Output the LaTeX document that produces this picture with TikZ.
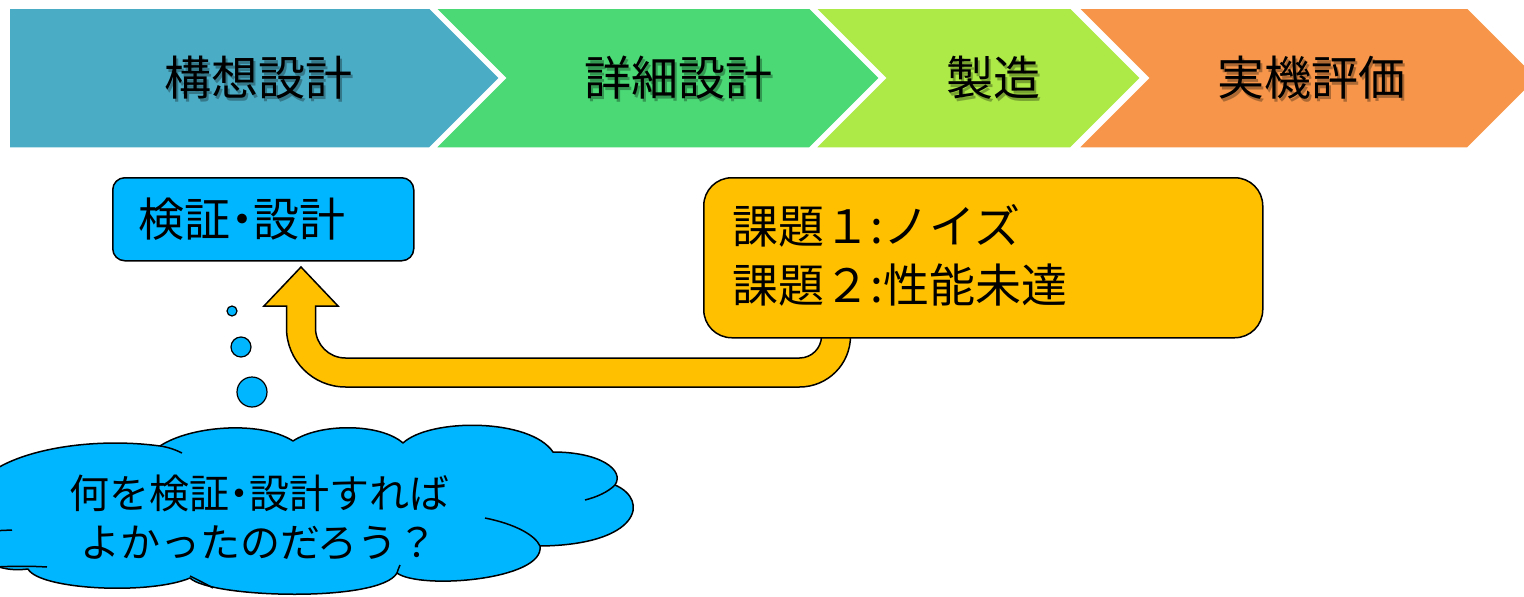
\documentclass[tikz,border=0pt]{standalone}
\usepackage{fontspec}
\newfontfamily\jp{Noto Sans CJK JP}
\newfontfamily\jpp[RawFeature=+palt]{Noto Sans CJK JP}
\definecolor{chA}{RGB}{75,172,198}
\definecolor{chB}{RGB}{74,217,117}
\definecolor{chC}{RGB}{173,234,71}
\definecolor{chD}{RGB}{247,150,74}
\definecolor{cyanbox}{RGB}{0,183,255}
\definecolor{yel}{RGB}{255,192,0}
\begin{document}
\begin{tikzpicture}[x=1pt,y=-1pt,
  chev/.style={draw=white, line width=3.5pt, line join=miter},
  chevtext/.style={font=\jp\fontsize{47}{50}\selectfont, text=black, inner sep=0pt},
  chevshadow/.style={font=\jp\fontsize{47}{50}\selectfont, text=black, text opacity=0.3, inner sep=0pt},
  outl/.style={draw=black, line width=1.5pt},
  bubble/.style={circle, outl, fill=cyanbox, inner sep=0pt, line width=1.2pt},
  innerarc/.style={draw=black, line width=1.5pt}
]
\useasboundingbox (0,0) rectangle (1524,597);

% chevrons
\filldraw[chev, fill=chA] (8,7) -- (430,7) -- (501,78) -- (430,149) -- (8,149) -- cycle;
\filldraw[chev, fill=chB] (433,7) -- (810,7) -- (881,78) -- (810,149) -- (433,149) -- (504,78) -- cycle;
\filldraw[chev, fill=chC] (813,7) -- (1071,7) -- (1142,78) -- (1071,149) -- (813,149) -- (884,78) -- cycle;
\filldraw[chev, fill=chD] (1076,7) -- (1468,7) -- (1539,78) -- (1468,149) -- (1076,149) -- (1147,78) -- cycle;

\node[chevshadow] (t1s) at (260.5,80.5) {構想設計};
\node[chevtext] (t1) at (258,78) {構想設計};
\node[chevshadow] (t2s) at (680.5,80.5) {詳細設計};
\node[chevtext] (t2) at (678,78) {詳細設計};
\node[chevshadow] (t3s) at (995.5,80.5) {製造};
\node[chevtext] (t3) at (993,78) {製造};
\node[chevshadow] (t4s) at (1313.5,80.5) {実機評価};
\node[chevtext] (t4) at (1311,78) {実機評価};

% U-turn block arrow
\draw[outl, fill=yel, line join=miter] (821.5,320) -- (821.5,336)
  arc[start angle=0, end angle=90, radius=22] -- (345.5,358)
  arc[start angle=90, end angle=180, radius=30] -- (315.5,306)
  -- (338,306) -- (301,267) -- (264,306) -- (286.5,306) -- (286.5,328)
  arc[start angle=180, end angle=90, radius=59] -- (799.5,387)
  arc[start angle=90, end angle=0, radius=51] -- (850.5,320) -- cycle;

% boxes
\node[outl, fill=cyanbox, rounded corners=12pt, anchor=north west,
  minimum width=301pt, minimum height=83pt, text width=249pt, inner xsep=26pt,
  align=left, font=\jpp\fontsize{46}{50}\selectfont] (verify) at (112,177) {検証・設計};

\node[outl, fill=yel, rounded corners=28pt, anchor=north west,
  minimum width=559pt, minimum height=160pt, text width=501pt, inner xsep=29pt,
  align=left, font=\jp\fontsize{46}{59}\selectfont] (issues) at (703,177)
  {課題１:ノイズ\\課題２:性能未達\rule[-8pt]{0pt}{0pt}};

% thought bubbles
\node[bubble, minimum size=10pt] (b1) at (232,311) {};
\node[bubble, minimum size=20pt] (b2) at (241,347) {};
\node[bubble, minimum size=30pt] (b3) at (252,392) {};

% cloud
\filldraw[outl, fill=cyanbox, line join=round]
  (-30,500) .. controls (-20,455) and (80,435) .. (160,446)
  .. controls (190,426) and (260,420) .. (293,441)
  .. controls (320,423) and (380,423) .. (403,443)
  .. controls (430,418) and (530,418) .. (553,452)
  .. controls (600,452) and (625,470) .. (615,485)
  .. controls (650,500) and (640,545) .. (540,546)
  .. controls (545,580) and (420,590) .. (397,573)
  .. controls (380,603) and (210,598) .. (190,578)
  .. controls (150,595) and (40,590) .. (28,569)
  .. controls (-20,575) and (-40,540) .. (-30,500) -- cycle;
\draw[innerarc] (160,446) .. controls (168,447) and (176,450) .. (182,453);
\draw[innerarc] (615,485) .. controls (608,492) and (597,497) .. (585,500);
\draw[innerarc] (485,518) .. controls (515,524) and (535,535) .. (540,546);
\draw[innerarc] (397,573) .. controls (398,570) and (399,567) .. (400,565);
\draw[innerarc] (190,576) .. controls (198,580) and (206,584) .. (213,588);
\draw[innerarc] (-5,567) .. controls (15,566) and (30,566) .. (47,567);
\draw[innerarc] (-10,531) -- (12,530);

\node[align=center, inner sep=0pt, font=\jp\fontsize{40}{49}\selectfont] (q) at (259,518)
  {何を検証{\jpp ・}設計すれば\\よかったのだろう？};
\end{tikzpicture}
\end{document}
